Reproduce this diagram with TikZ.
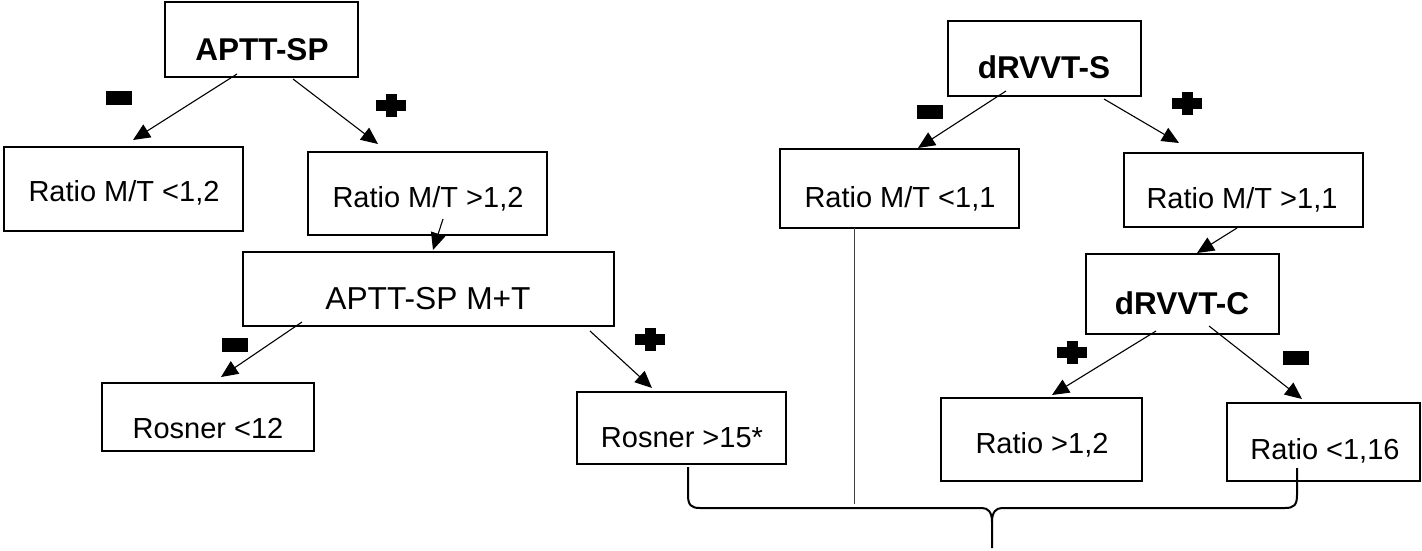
\documentclass[tikz,border=0pt]{standalone}
\usepackage{fontspec}
\setmainfont{Liberation Sans}
\usetikzlibrary{arrows.meta,calc}
\begin{document}
\begin{tikzpicture}[x=1pt,y=-1pt,
  box/.style={draw, line width=2.2pt, inner sep=0pt, outer sep=0pt, rectangle},
  txt/.style={anchor=base, inner sep=0pt, font=\fontsize{29}{34}\selectfont},
  bigtxt/.style={anchor=base, inner sep=0pt, font=\fontsize{31.7}{36}\selectfont},
  btxt/.style={anchor=base, inner sep=0pt, font=\fontsize{31.5}{36}\selectfont\bfseries},
  arr/.style={-{Triangle[length=17pt,width=15pt]}, line width=1.1pt},
  bracestyle/.style={line width=2pt, line join=round},
  minussign/.pic={\fill (-13,-7) rectangle (13,7);},
  plussign/.pic={\fill (-15,-5.5) rectangle (15,5.5); \fill (-5.5,-11.5) rectangle (5.5,11.5);}
]
\useasboundingbox (0,0) rectangle (1422,551);

% boxes
\node[box, minimum width=193pt, minimum height=75pt] (a) at (261.5,39.5) {};
\node[box, minimum width=239pt, minimum height=84pt] (b) at (123.5,189) {};
\node[box, minimum width=239pt, minimum height=83pt] (c) at (427.5,193.5) {};
\node[box, minimum width=371pt, minimum height=74pt] (d) at (428.5,289) {};
\node[box, minimum width=212pt, minimum height=68pt] (e) at (208,417) {};
\node[box, minimum width=209pt, minimum height=72pt] (f) at (681.5,428) {};
\node[box, minimum width=193pt, minimum height=75pt] (g) at (1044.5,58.5) {};
\node[box, minimum width=239pt, minimum height=79pt] (h) at (899.5,188.5) {};
\node[box, minimum width=239pt, minimum height=74pt] (i) at (1243.5,190) {};
\node[box, minimum width=193pt, minimum height=80pt] (j) at (1182.5,294) {};
\node[box, minimum width=201pt, minimum height=83pt] (k) at (1041.5,439.5) {};
\node[box, minimum width=193pt, minimum height=78pt] (l) at (1323.5,442) {};

% texts
\node[btxt] (ta) at (262,61) {APTT-SP};
\node[txt] (tb) at (124,201) {Ratio M/T <1,2};
\node[txt] (tc) at (428,207) {Ratio M/T >1,2};
\node[bigtxt] (td) at (428,309) {APTT-SP M+T};
\node[txt] (te) at (208,438) {Rosner <12};
\node[txt] (tf) at (682,447) {Rosner >15*};
\node[btxt] (tg) at (1044,79) {dRVVT-S};
\node[txt] (th) at (900,207) {Ratio M/T <1,1};
\node[txt] (ti) at (1242,208) {Ratio M/T >1,1};
\node[btxt] (tj) at (1182,314) {dRVVT-C};
\node[txt] (tk) at (1042,453) {Ratio >1,2};
\node[txt] (tl) at (1325,459) {Ratio <1,16};

% arrows
\draw[arr] ($(a.south west)+(72,-3)$) -- ($(b.north west)+(129,-7)$);
\draw[arr] ($(a.south west)+(128,2)$) -- ($(c.north west)+(70,-8)$);
\draw[arr] ($(c.south west)+(135,-16)$) -- ($(d.north west)+(190,-2)$);
\draw[arr] ($(d.south west)+(59,-4)$) -- ($(e.north west)+(119,-6)$);
\draw[arr] ($(d.south west)+(347,5)$) -- ($(f.north west)+(75,-4)$);
\draw[arr] ($(g.south west)+(58,-5)$) -- ($(h.north west)+(138,-1)$);
\draw[arr] ($(g.south west)+(156,3)$) -- ($(i.north west)+(55,-10)$);
\draw[arr] ($(i.south west)+(113,1)$) -- ($(j.north west)+(111,-1)$);
\draw[arr] ($(j.south west)+(70,-3)$) -- ($(k.north west)+(111,-3)$);
\draw[arr] ($(j.south west)+(123,-8)$) -- ($(l.north west)+(75,-4)$);

% signs
\pic at (119,98) {minussign};
\pic at (391,105) {plussign};
\pic at (235,345) {minussign};
\pic at (650,339) {plussign};
\pic at (930,112) {minussign};
\pic at (1187,103) {plussign};
\pic at (1072,352) {plussign};
\pic at (1296,358) {minussign};

% vertical line
\coordinate (vend) at (854,504);
\draw[line width=1pt, black!75] ($(h.south west)+(74,0)$) -- (vend);

% brace
\coordinate (btip) at (992,548);
\draw[bracestyle] ($(f.south west)+(111,3)$) -- (688,495) .. controls (688,505) and (691,508) .. (700,508) -- (982,508) .. controls (988,508) and (992,512) .. (992,522) -- (btip);
\draw[bracestyle] ($(l.south west)+(70,-13)$) -- (1297,495) .. controls (1297,505) and (1294,508) .. (1285,508) -- (1002,508) .. controls (996,508) and (992,512) .. (992,522);
\end{tikzpicture}
\end{document}
